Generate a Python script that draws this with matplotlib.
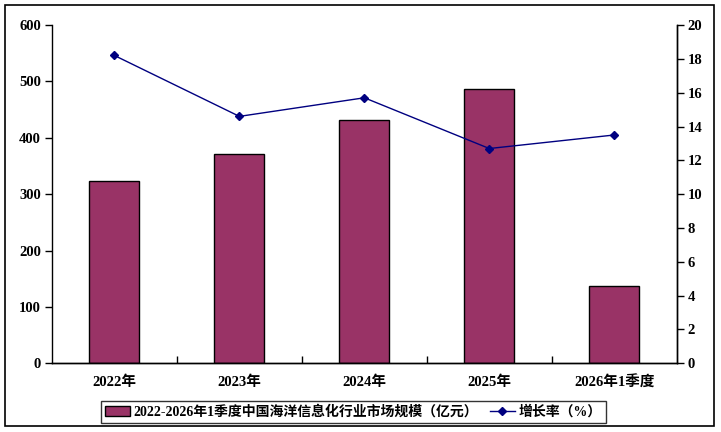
import matplotlib.pyplot as plt
from matplotlib.patches import Rectangle

plt.rcParams['font.family'] = ['Liberation Serif', 'Noto Sans CJK SC']
plt.rcParams['font.weight'] = 'bold'

categories = ['2022年', '2023年', '2024年', '2025年', '2026年1季度']
market_size = [324, 372, 431, 486, 138]
growth_rate = [18.2, 14.6, 15.7, 12.7, 13.5]

fig = plt.figure(figsize=(7.21, 4.32), dpi=100)
ax = fig.add_axes([0.0721, 0.159, 0.8665, 0.783])
ax2 = ax.twinx()

x = range(len(categories))
bars = ax.bar(x, market_size, width=0.4, color='#993366', edgecolor='black',
              linewidth=1, label='2022-2026年1季度中国海洋信息化行业市场规模（亿元）')
line, = ax2.plot(x, growth_rate, color='#000080', marker='D', markersize=4.5,
                 linewidth=1, label='增长率（%）')

ax.set_xlim(-0.5, len(categories) - 0.5)
ax.set_ylim(0, 600)
ax.set_yticks(range(0, 601, 100))
ax2.set_ylim(0, 20)
ax2.set_yticks(range(0, 21, 2))

ax.set_xticks(x)
ax.set_xticklabels(categories, fontsize=10.5, fontweight='bold')
ax.tick_params(axis='x', length=0, pad=9)
# category separators on the x axis
ax.set_xticks([i + 0.5 for i in range(len(categories) - 1)], minor=True)
ax.tick_params(axis='x', which='minor', direction='in', length=5, width=1)

ax.tick_params(axis='y', direction='out', length=5, width=1, labelsize=10.5, pad=3)
ax2.tick_params(axis='y', direction='out', length=5, width=1, labelsize=10.5, pad=3)
for lab in ax.get_yticklabels() + ax2.get_yticklabels():
    lab.set_fontweight('bold')

for a in (ax, ax2):
    a.spines['top'].set_visible(False)
    for s in ('left', 'right', 'bottom'):
        a.spines[s].set_linewidth(1)
ax2.spines['left'].set_visible(False)

leg = fig.legend(handles=[bars, line], loc='center', bbox_to_anchor=(0.49, 0.047),
                 ncol=2, frameon=True, fancybox=False, edgecolor='black',
                 fontsize=10, handlelength=1.8, handletextpad=0.3, columnspacing=0.8,
                 borderpad=0.3, borderaxespad=0)
leg.get_frame().set_linewidth(1)
for t in leg.get_texts():
    t.set_fontweight('bold')

fig.patches.append(Rectangle((5 / 721, 6 / 432), 709 / 721, 421 / 432,
                             transform=fig.transFigure, fill=False,
                             edgecolor='black', linewidth=1.2))

fig.savefig('out.png', dpi=100)
